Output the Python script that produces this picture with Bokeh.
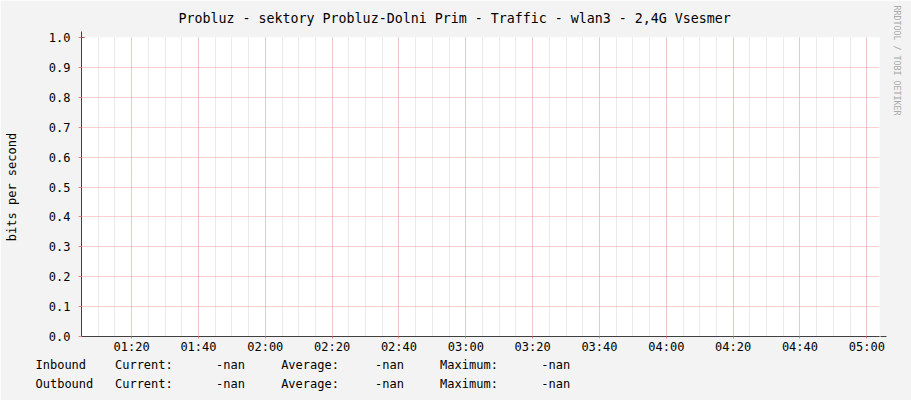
import math
from bokeh.plotting import figure
from bokeh.models import FixedTicker, Arrow, NormalHead, Range1d, Title
from bokeh.embed import file_html
from bokeh.resources import INLINE

NAN = float("nan")

# ---- data (minutes after midnight; all values are NaN in the source) ----
time_min = [65, 125, 185, 245, 303]
inbound = [NAN, NAN, NAN, NAN, NAN]
outbound = [NAN, NAN, NAN, NAN, NAN]

x_tick_vals = [80, 100, 120, 140, 160, 180, 200, 220, 240, 260, 280, 300]
x_tick_labels = ["01:20", "01:40", "02:00", "02:20", "02:40", "03:00",
                 "03:20", "03:40", "04:00", "04:20", "04:40", "05:00"]
y_tick_vals = [0.0, 0.1, 0.2, 0.3, 0.4, 0.5, 0.6, 0.7, 0.8, 0.9, 1.0]

title_text = "Probluz - sektory Probluz-Dolni Prim - Traffic - wlan3 - 2,4G Vsesmer"
series_names = ["Inbound", "Outbound"]
series_colors = ["#00cc00", "#002a97"]
current_vals = ["-nan", "-nan"]
average_vals = ["-nan", "-nan"]
maximum_vals = ["-nan", "-nan"]

FONT = "DejaVu Sans Mono"
SP = "\u00a0"

X0, X1 = 65, 303.8          # visible time window (minutes)
FL, FR, FT, FB = 81, 881, 36, 336   # frame edges in canvas pixels

def dx(px):   # canvas px -> data x
    return X0 + (px - FL) * (X1 - X0) / (FR - FL)

def dy(py):   # canvas px -> data y
    return (FB - py) / (FB - FT)

p = figure(width=911, height=400, output_backend="svg", toolbar_location=None,
           title=title_text, title_location="above",
           x_range=Range1d(X0, X1), y_range=Range1d(0, 1.0),
           min_border_left=FL, min_border_right=911 - FR, min_border_top=FT,
           min_border_bottom=400 - FB)
p.border_fill_color = "#f3f3f3"
p.background_fill_color = "#ffffff"
p.outline_line_color = None

p.title.align = "left"
p.title.offset = 97
p.title.vertical_align = "top"
p.title.text_font = FONT
p.title.text_font_size = "13.3px"
p.title.text_font_style = "normal"
p.title.text_color = "#000000"
p.title.standoff = 20

# series (no valid samples in the source -> nothing visible)
p.varea(x=time_min, y1=0, y2=inbound, fill_color=series_colors[0])
p.line(time_min, outbound, line_color=series_colors[1], line_width=1)

# x axis
minor_x = list(range(65, 304, 5))
p.xaxis.ticker = FixedTicker(ticks=x_tick_vals, minor_ticks=minor_x)
p.xaxis.major_label_overrides = {v: l for v, l in zip(x_tick_vals, x_tick_labels)}
p.xaxis.major_label_text_font = FONT
p.xaxis.major_label_text_font_size = "12px"
p.xaxis.major_label_text_color = "#000000"
p.xaxis.major_tick_out = 2
p.xaxis.major_tick_in = 0
p.xaxis.minor_tick_out = 0
p.xaxis.minor_tick_in = 0
p.xaxis.major_tick_line_color = "#f08080"
p.xaxis.major_label_standoff = 1
p.xaxis.axis_line_color = "#404040"

# y axis
p.yaxis.ticker = FixedTicker(ticks=y_tick_vals, minor_ticks=[])
p.yaxis.major_label_overrides = {v: "%.1f" % v for v in y_tick_vals}
p.yaxis.major_label_text_font = FONT
p.yaxis.major_label_text_font_size = "12px"
p.yaxis.major_label_text_color = "#000000"
p.yaxis.major_tick_out = 3
p.yaxis.major_tick_in = 0
p.yaxis.minor_tick_out = 0
p.yaxis.minor_tick_in = 0
p.yaxis.major_tick_line_color = "#f08080"
p.yaxis.major_label_standoff = 8
p.yaxis.axis_line_color = "#404040"
p.yaxis.axis_label = "bits per second"
p.yaxis.axis_label_text_font = FONT
p.yaxis.axis_label_text_font_size = "12px"
p.yaxis.axis_label_text_font_style = "normal"
p.yaxis.axis_label_text_color = "#000000"
p.yaxis.axis_label_standoff = 27

# grids
p.xgrid.grid_line_color = "#f4a0a0"
p.xgrid.grid_line_dash = "1 1"
p.xgrid.minor_grid_line_color = "#d4d4d4"
p.xgrid.minor_grid_line_dash = "1 1"
p.ygrid.grid_line_color = "#f4a0a0"
p.ygrid.grid_line_dash = "1 1"

# arrows on axes
p.add_layout(Arrow(end=NormalHead(size=6, fill_color="#7f1010", line_color="#7f1010"),
                   x_start=X0, y_start=0.99, x_end=X0, y_end=dy(30),
                   line_color="#404040", line_width=1))
p.add_layout(Arrow(end=NormalHead(size=6, fill_color="#7f1010", line_color="#7f1010"),
                   x_start=X1, y_start=0, x_end=dx(888), y_end=0,
                   line_color="#404040", line_width=1))

# watermark on the right
p.add_layout(Title(text="RRDTOOL / TOBI OETIKER", align="left", vertical_align="top",
                   text_font=FONT, text_font_size="8.3px", text_font_style="normal",
                   text_color="#aaaaaa", standoff=20, offset=-32), "right")

# legend rows (monospaced text, placed below the x axis)
def row(name, cur, avg, mx):
    return (name + SP * (11 - len(name)) + "Current:" + SP * 6 + cur + SP * 5
            + "Average:" + SP * 5 + avg + SP * 5 + "Maximum:" + SP * 6 + mx)

for i in range(2):
    p.add_layout(Title(text=row(series_names[i], current_vals[i], average_vals[i], maximum_vals[i]),
                       align="left", vertical_align="top", offset=35 - FL,
                       text_font=FONT, text_font_size="12px", text_font_style="normal",
                       text_color="#000000", standoff=3), "below")

open("out.html", "w").write(file_html(p, INLINE))
